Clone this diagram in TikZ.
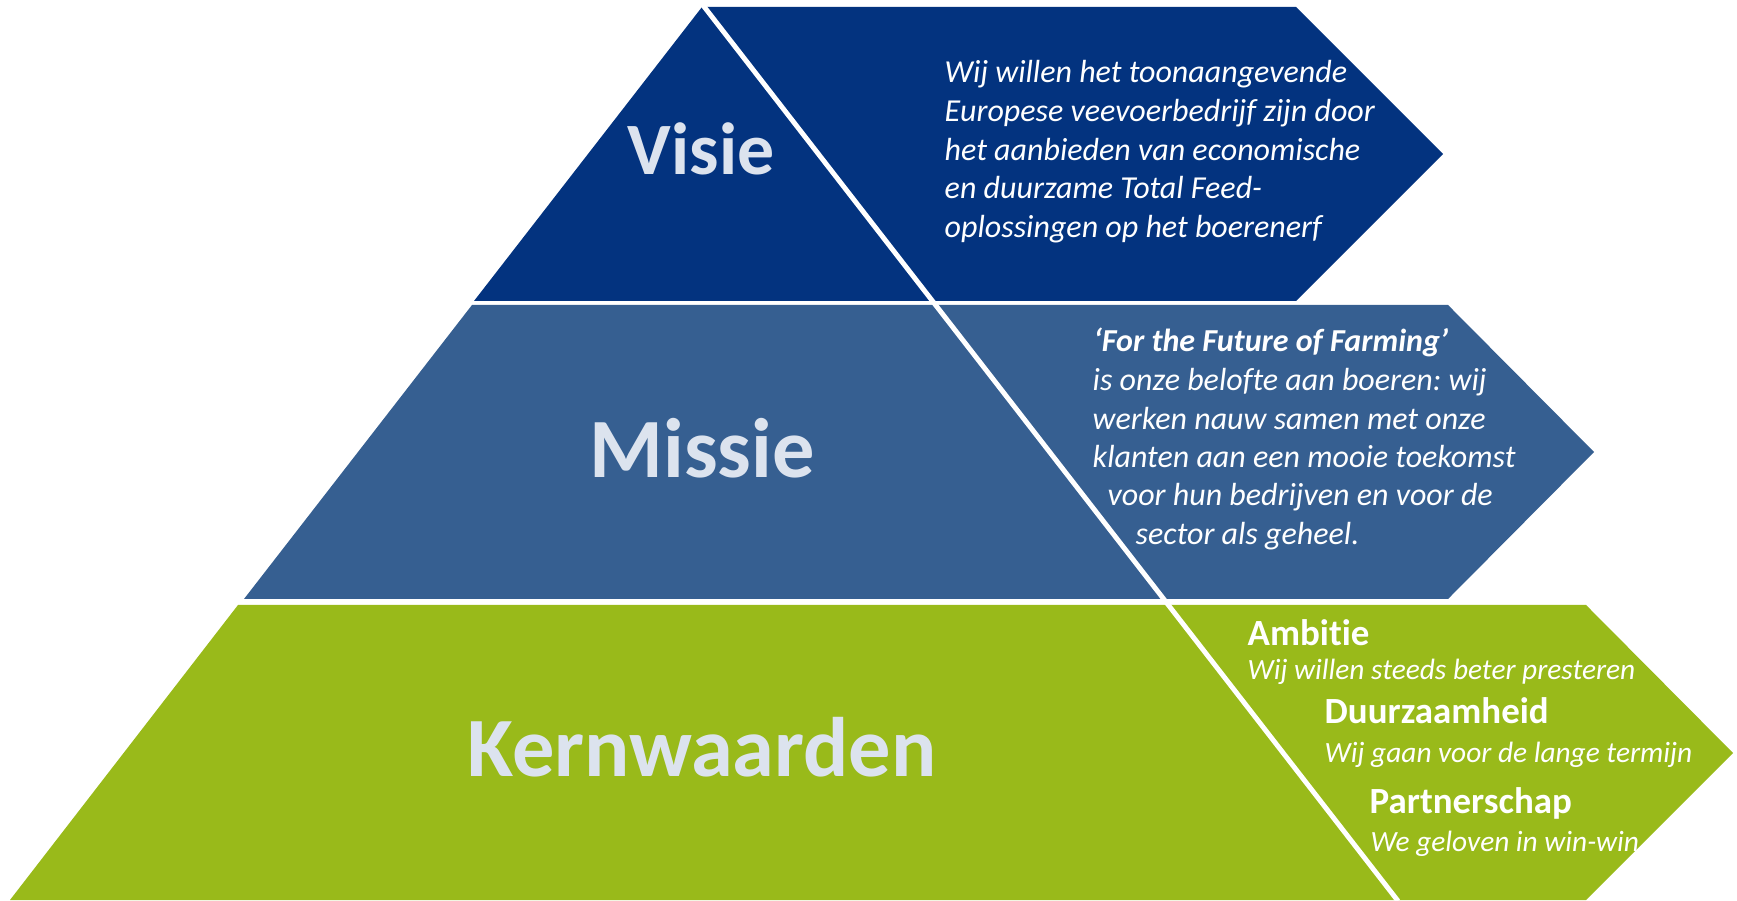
\documentclass[tikz,border=0pt]{standalone}
\usepackage{fontspec}
\setmainfont{Carlito}[Ligatures=NoCommon]
\usepackage{xcolor}
\definecolor{visieblue}{HTML}{03337F}
\definecolor{missieblue}{HTML}{365F91}
\definecolor{kerngreen}{HTML}{99BA1A}
\definecolor{titlegray}{HTML}{DCE3EE}
\frenchspacing

\begin{document}
\begin{tikzpicture}[x=0.01cm, y=-0.01cm, title node/.style={inner sep=0pt, anchor=base, text=titlegray, font=\bfseries\fontsize{24}{29}\selectfont}, text node/.style={inner sep=0pt, anchor=base west, text=white, font=\itshape\fontsize{9.1}{10.9}\selectfont}, value node/.style={inner sep=0pt, anchor=base west, text=white, font=\bfseries\fontsize{10.5}{12.6}\selectfont}, small node/.style={text node, font=\itshape\fontsize{8.35}{10}\selectfont}]
\useasboundingbox (0,0) rectangle (1737,901);
\begin{scope}
\fill[visieblue] (702,7) -- (1296,7) -- (1443,154) -- (1296,301) -- (474,301) -- cycle;
\fill[missieblue] (472,305) -- (1448,305) -- (1594,452) -- (1448,599) -- (244,599) -- cycle;
\fill[kerngreen] (238,605) -- (1586,605) -- (1733,753) -- (1586,900) -- (10,900) -- cycle;
\coordinate (apex) at (702,4);
\coordinate (foot) at (1398,901);
\draw[white, line width=1.4pt] (apex) -- (foot);
\end{scope}
\begin{scope}
\node[title node, font=\bfseries\fontsize{21}{25}\selectfont] (visie) at (701,175) {Visie};
\node[title node] (missie) at (702,478) {Missie};
\node[title node] (kern) at (702,776) {Kernwaarden};
\end{scope}
\begin{scope}
\node[text node] (v1) at (944,83) {Wij willen het toonaangevende};
\node[text node] (v2) at (944,122) {Europese veevoerbedrijf zijn door};
\node[text node] (v3) at (944,161) {het aanbieden van economische};
\node[text node] (v4) at (944,199) {en duurzame Total Feed-};
\node[text node] (v5) at (944,238) {oplossingen op het boerenerf};
\node[text node, font=\bfseries\itshape\fontsize{9.1}{10.9}\selectfont] (m1) at (1093,352) {‘For the Future of Farming’};
\node[text node] (m2) at (1092,391) {is onze belofte aan boeren: wij};
\node[text node] (m3) at (1092,430) {werken nauw samen met onze};
\node[text node] (m4) at (1092,468) {klanten aan een mooie toekomst};
\node[text node] (m5) at (1107,506) {voor hun bedrijven en voor de};
\node[text node] (m6) at (1135,545) {sector als geheel.};
\node[value node] (k1) at (1247,646) {Ambitie};
\node[small node] (k1t) at (1247,680) {Wij willen steeds beter presteren};
\node[value node] (k2) at (1324,724) {Duurzaamheid};
\node[small node] (k2t) at (1324,762) {Wij gaan voor de lange termijn};
\node[value node] (k3) at (1369,813) {Partnerschap};
\node[small node] (k3t) at (1370,851) {We geloven in win-win};
\end{scope}
\end{tikzpicture}
\end{document}
